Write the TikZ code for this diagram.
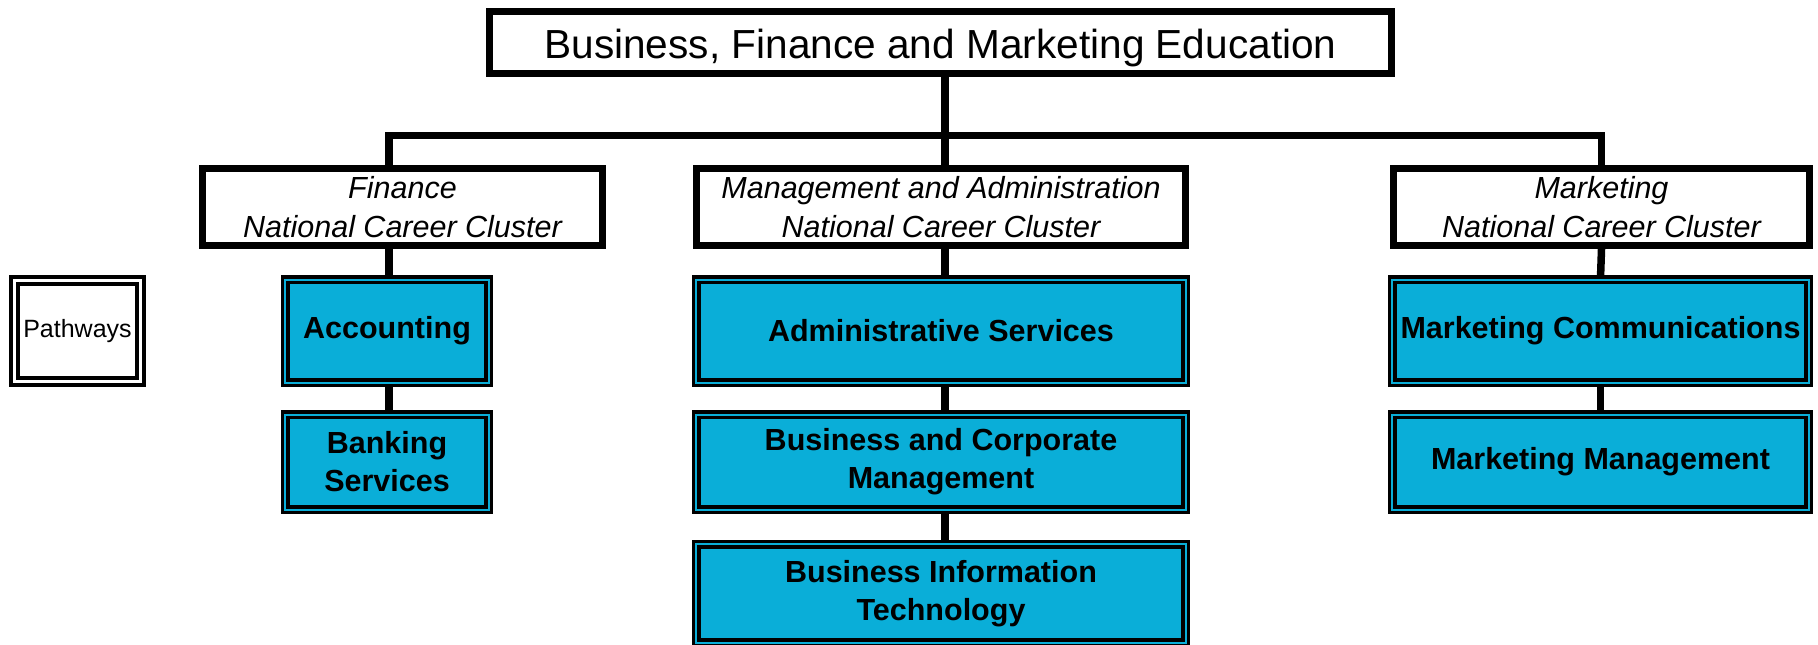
\documentclass[tikz,border=0pt]{standalone}
\usepackage{fontspec}
\setmainfont{Liberation Sans}
\definecolor{pblue}{RGB}{10,174,216}
\tikzset{
  hdbox/.style={draw, line width=7pt, fill=white, rectangle, inner sep=0pt, align=center},
  pbox/.style={draw, line width=3.3pt, double=pblue, double distance=2pt, fill=pblue, rectangle, inner sep=0pt, align=center,
    font=\fontsize{30.5}{38}\selectfont\bfseries},
  legbox/.style={draw, line width=4pt, double=white, double distance=2.7pt, fill=white, rectangle, inner sep=0pt, align=center,
    font=\fontsize{25}{30}\selectfont},
  conn/.style={draw, line width=7.5pt},
  clfont/.style={font=\fontsize{30.5}{39}\selectfont\itshape}
}
\begin{document}
\begin{tikzpicture}[x=1pt,y=-1pt]
\useasboundingbox (0,0) rectangle (1818,645);
% header boxes
\node[hdbox, minimum width=902pt, minimum height=62pt, text height=32pt, text depth=0pt, font=\fontsize{40.6}{48}\selectfont] (title) at (940.5,42.5) {Business, Finance and Marketing Education};
\node[hdbox, clfont, minimum width=400pt, minimum height=77pt] (fin) at (402.5,207) {Finance\\National Career Cluster};
\node[hdbox, clfont, minimum width=489pt, minimum height=77pt] (mgmt) at (941,207) {Management and Administration\\National Career Cluster};
\node[hdbox, clfont, minimum width=416pt, minimum height=77pt] (mkt) at (1601.5,207) {Marketing\\National Career Cluster};
% pathway boxes
\node[legbox, minimum width=126pt, minimum height=101pt] (path) at (77.5,331) {Pathways};
\node[pbox, minimum width=203.4pt, minimum height=103pt] (acc) at (387,331) {\raisebox{-2pt}{Accounting}};
\node[pbox, minimum width=203.4pt, minimum height=95pt] (bank) at (387,462) {Banking\\Services};
\node[pbox, minimum width=489.4pt, minimum height=103pt] (adm) at (941,331) {Administrative Services};
\node[pbox, minimum width=489.4pt, minimum height=95pt] (bcm) at (941,462) {Business and Corporate\\Management};
\node[pbox, minimum width=489.4pt, minimum height=98.4pt] (bit) at (941,593.5) {Business Information\\Technology};
\node[pbox, minimum width=416.4pt, minimum height=103pt] (mc) at (1600.5,331) {\raisebox{-2pt}{Marketing Communications}};
\node[pbox, minimum width=416.4pt, minimum height=95pt] (mm) at (1600.5,462) {\raisebox{-2pt}{Marketing Management}};
% connectors
\coordinate (trunk) at (945,135.5);
\coordinate (finx) at (389,0);
\draw[conn] (title.south -| trunk) -- (mgmt.north -| trunk);
\draw[conn] (fin.north -| finx) |- (trunk) -| (mkt.north);
\draw[conn] (fin.south -| finx) -- (acc.north -| finx);
\draw[conn] (acc.south -| finx) -- (bank.north -| finx);
\draw[conn] (mgmt.south -| trunk) -- (adm.north -| trunk);
\draw[conn] (adm.south -| trunk) -- (bcm.north -| trunk);
\draw[conn] (bcm.south -| trunk) -- (bit.north -| trunk);
\draw[conn] (mkt.south) -- (mc.north);
\draw[conn] (mc.south) -- (mm.north);
\end{tikzpicture}
\end{document}
